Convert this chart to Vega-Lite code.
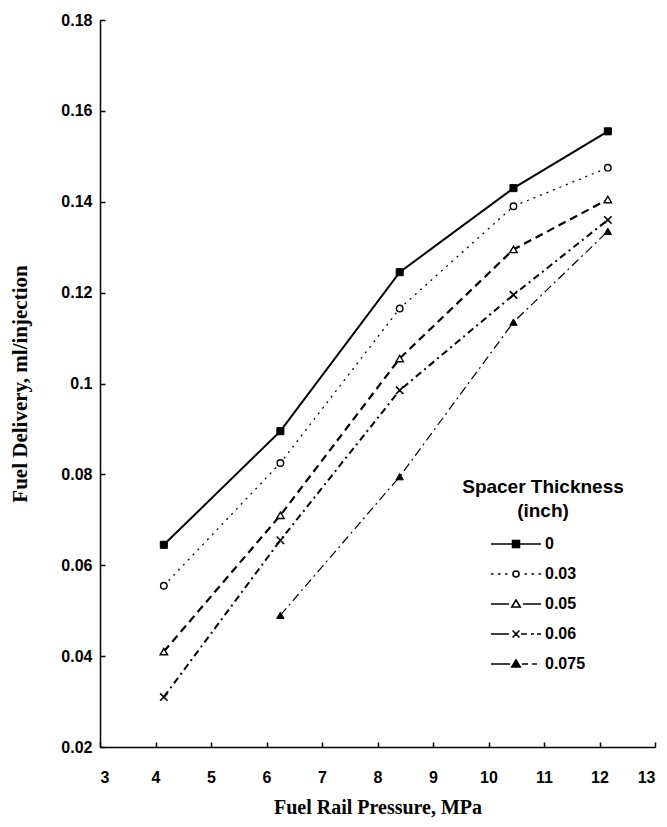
{
  "$schema": "https://vega.github.io/schema/vega-lite/v6.json",
  "width": 555,
  "height": 727,
  "autosize": {"type": "none"},
  "padding": {"left": 100, "top": 20, "right": 12, "bottom": 80},
  "background": "white",
  "config": {
    "view": {"stroke": null},
    "axis": {
      "domainColor": "black", "domainWidth": 1.5,
      "tickColor": "black", "tickWidth": 1.5, "tickSize": -5,
      "grid": false,
      "labelFont": "Liberation Sans", "labelFontWeight": "bold", "labelFontSize": 16, "labelColor": "black",
      "titleFont": "Liberation Serif", "titleFontSize": 20, "titleFontWeight": "bold", "titleColor": "black"
    },
    "legend": {
      "titleFont": "Liberation Sans", "titleFontSize": 19, "titleFontWeight": "bold", "titleColor": "black",
      "titleAnchor": "middle", "titleAlign": "center", "titleLineHeight": 24,
      "labelFont": "Liberation Sans", "labelFontSize": 16, "labelFontWeight": "bold", "labelColor": "black",
      "symbolStrokeWidth": 1.6
    }
  },
  "data": {
    "values": [
      {"p": 4.15, "f": 0.0645, "t": "0"},
      {"p": 6.25, "f": 0.0895, "t": "0"},
      {"p": 8.4, "f": 0.1245, "t": "0"},
      {"p": 10.45, "f": 0.143, "t": "0"},
      {"p": 12.15, "f": 0.1555, "t": "0"},
      {"p": 4.15, "f": 0.0555, "t": "0.03"},
      {"p": 6.25, "f": 0.0825, "t": "0.03"},
      {"p": 8.4, "f": 0.1165, "t": "0.03"},
      {"p": 10.45, "f": 0.139, "t": "0.03"},
      {"p": 12.15, "f": 0.1475, "t": "0.03"},
      {"p": 4.15, "f": 0.041, "t": "0.05"},
      {"p": 6.25, "f": 0.071, "t": "0.05"},
      {"p": 8.4, "f": 0.1055, "t": "0.05"},
      {"p": 10.45, "f": 0.1295, "t": "0.05"},
      {"p": 12.15, "f": 0.1405, "t": "0.05"},
      {"p": 4.15, "f": 0.031, "t": "0.06"},
      {"p": 6.25, "f": 0.0655, "t": "0.06"},
      {"p": 8.4, "f": 0.0985, "t": "0.06"},
      {"p": 10.45, "f": 0.1195, "t": "0.06"},
      {"p": 12.15, "f": 0.136, "t": "0.06"},
      {"p": 6.25, "f": 0.049, "t": "0.075"},
      {"p": 8.4, "f": 0.0795, "t": "0.075"},
      {"p": 10.45, "f": 0.1135, "t": "0.075"},
      {"p": 12.15, "f": 0.1335, "t": "0.075"}
    ]
  },
  "encoding": {
    "x": {
      "field": "p", "type": "quantitative",
      "scale": {"domain": [3, 13], "nice": false, "zero": false},
      "axis": {"values": [3, 4, 5, 6, 7, 8, 9, 10, 11, 12, 13], "title": "Fuel Rail Pressure, MPa", "labelPadding": 27, "titlePadding": 12}
    },
    "y": {
      "field": "f", "type": "quantitative",
      "scale": {"domain": [0.02, 0.18], "nice": false, "zero": false},
      "axis": {"values": [0.02, 0.04, 0.06, 0.08, 0.1, 0.12, 0.14, 0.16, 0.18], "format": "~g", "title": "Fuel Delivery, ml/injection", "labelPadding": 13, "titlePadding": 30, "titleFontSize": 21}
    }
  },
  "layer": [
    {
      "transform": [{"filter": "datum.t === '0.075'"}],
      "mark": {"type": "line", "stroke": "black", "strokeWidth": 1.2, "strokeDash": [9, 4, 2, 4],
        "point": {"shape": "triangle-up", "filled": true, "fill": "black", "stroke": "black", "strokeWidth": 1, "size": 55}}
    },
    {
      "transform": [{"filter": "datum.t === '0.06'"}],
      "mark": {"type": "line", "stroke": "black", "strokeWidth": 2, "strokeDash": [7, 4, 2, 4],
        "point": {"shape": "M-1,-1L1,1M1,-1L-1,1", "filled": false, "stroke": "black", "strokeWidth": 1.6, "size": 55}}
    },
    {
      "transform": [{"filter": "datum.t === '0.05'"}],
      "mark": {"type": "line", "stroke": "black", "strokeWidth": 2.2, "strokeDash": [8, 5],
        "point": {"shape": "triangle-up", "filled": true, "fill": "white", "stroke": "black", "strokeWidth": 1.4, "size": 55}}
    },
    {
      "transform": [{"filter": "datum.t === '0.03'"}],
      "mark": {"type": "line", "stroke": "black", "strokeWidth": 1.3, "strokeDash": [2, 5],
        "point": {"shape": "circle", "filled": true, "fill": "white", "stroke": "black", "strokeWidth": 1.4, "size": 42}}
    },
    {
      "transform": [{"filter": "datum.t === '0'"}],
      "mark": {"type": "line", "stroke": "black", "strokeWidth": 2,
        "point": {"shape": "square", "filled": true, "fill": "black", "stroke": "black", "strokeWidth": 1, "size": 50}}
    },
    {
      "transform": [{"filter": "false"}],
      "mark": {"type": "point", "filled": true, "strokeWidth": 1.6, "size": 900},
      "encoding": {
        "shape": {
          "field": "t", "type": "nominal",
          "scale": {
            "domain": ["0", "0.03", "0.05", "0.06", "0.075"],
            "range": [
              "M-1.67,0L1.67,0M-0.23,-0.23L0.23,-0.23L0.23,0.23L-0.23,0.23Z",
              "M-1.67,0L-1.5,0M-1.2,0L-1.03,0M-0.73,0L-0.57,0M0.57,0L0.73,0M1.03,0L1.2,0M1.5,0L1.67,0M0.2,0A0.2,0.2,0,1,1,-0.2,0A0.2,0.2,0,1,1,0.2,0Z",
              "M-1.67,0L-0.47,0M0.47,0L1.67,0M0,-0.27L0.28,0.2L-0.28,0.2Z",
              "M-1.67,0L-0.47,0M0.33,0L0.73,0M1,0L1.2,0M1.4,0L1.67,0M-0.23,-0.23L0.23,0.23M0.23,-0.23L-0.23,0.23",
              "M-1.67,0L-0.4,0M0.4,0L0.8,0M1.07,0L1.4,0M0,-0.27L0.28,0.2L-0.28,0.2Z"
            ]
          },
          "legend": {
            "title": ["Spacer Thickness", "(inch)"],
            "orient": "none", "legendX": 362, "legendY": 458,
            "symbolSize": 900, "symbolOpacity": 1,
            "labelOffset": 13, "rowPadding": 6, "titlePadding": 7
          }
        },
        "fill": {
          "field": "t", "type": "nominal",
          "scale": {"domain": ["0", "0.03", "0.05", "0.06", "0.075"], "range": ["black", "white", "white", "white", "black"]},
          "legend": {
            "title": ["Spacer Thickness", "(inch)"],
            "orient": "none", "legendX": 362, "legendY": 458,
            "symbolSize": 900, "symbolOpacity": 1,
            "labelOffset": 13, "rowPadding": 6, "titlePadding": 7
          }
        },
        "stroke": {
          "field": "t", "type": "nominal",
          "scale": {"domain": ["0", "0.03", "0.05", "0.06", "0.075"], "range": ["black", "black", "black", "black", "black"]},
          "legend": {
            "title": ["Spacer Thickness", "(inch)"],
            "orient": "none", "legendX": 362, "legendY": 458,
            "symbolSize": 900, "symbolOpacity": 1,
            "labelOffset": 13, "rowPadding": 6, "titlePadding": 7
          }
        }
      }
    }
  ]
}
